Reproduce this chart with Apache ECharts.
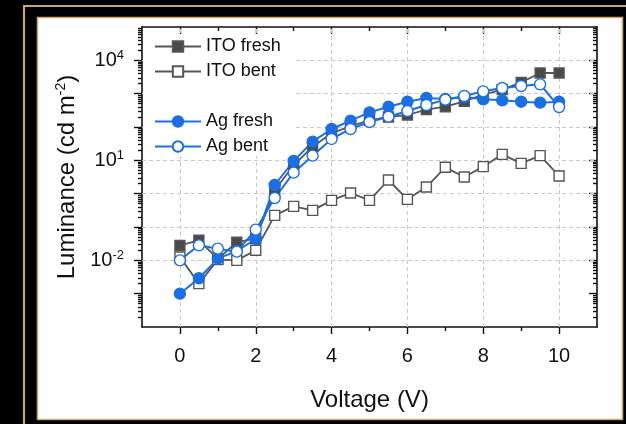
<!DOCTYPE html>
<html><head><meta charset="utf-8">
<script src="https://cdn.jsdelivr.net/npm/echarts@6/dist/echarts.min.js"></script>
<style>html,body{margin:0;padding:0;background:#000;}#c{width:626px;height:424px;}</style>
</head><body><div id="c"></div>
<script>
// ---- data ----
const voltage = [0,0.5,1,1.5,2,2.5,3,3.5,4,4.5,5,5.5,6,6.5,7,7.5,8,8.5,9,9.5,10];
const itoFresh = [0.028,0.040,0.011,0.035,0.045,1.26,7.1,25.7,64.6,107,158,200,229,331,407,589,933,1318,2188,4169,4169];
const itoBent  = [0.0126,0.0020,0.0105,0.010,0.020,0.224,0.417,0.316,0.631,1.05,0.631,2.57,0.676,1.58,6.17,3.16,6.46,15.1,8.13,13.8,3.39];
const agFresh  = [0.001,0.0029,0.0112,0.019,0.0437,1.82,9.55,36.3,87.1,155,275,407,575,741,692,794,676,631,575,537,575];
const agBent   = [0.010,0.0282,0.0224,0.0182,0.0832,0.741,4.27,13.8,43.7,87.1,141,204,302,457,661,851,1175,1479,1698,1905,398];
const seriesNames = ['ITO fresh','ITO bent','Ag fresh','Ag bent'];
// ---- ticks ----
const xMajorTicks = [0,2,4,6,8,10];
const xMinorTicks = [1,3,5,7,9];
const yMajorTicks = [1e-3,1e-2,1e-1,1,1e1,1e2,1e3,1e4];
const yLabelTicks = [1e-2,1e1,1e4];
const yGridLines  = [1e-2,1e-1,1,1e1,1e2,1e3,1e4];
const xGridLines  = [0,2,4,6,8,10];
const yMinorTicks = [];
for (let d = -4; d <= 4; d++) for (let k = 2; k <= 9; k++) yMinorTicks.push(+(k * Math.pow(10, d)).toPrecision(3));

const FONT = 'Liberation Sans, Arial, sans-serif';
const GRAY = '#565656', GRAY_FILL = '#4a4a4a', BLUE = '#1b6fe3', GOLD = '#c9a76e';
const X_MIN = -1, X_MAX = 11, Y_MIN = 1e-4, Y_MAX = 1e5;

const pairs = arr => voltage.map((v, i) => [v, arr[i]]);
const gridBox = {left: 142, right: 29, top: 27, bottom: 97};
const axLine = {show: true, onZero: false, lineStyle: {color: '#111', width: 1.6}};
const noLine = {show: false, onZero: false};
const tickStyle = {color: '#111', width: 1.4};

function xAx(gridIndex, position, ticks, len, inside, withLabel, lineShow) {
  const a = {type: 'value', gridIndex, position, min: X_MIN, max: X_MAX,
    axisLine: lineShow ? axLine : noLine,
    axisTick: {show: true, customValues: ticks, length: len, inside, lineStyle: tickStyle},
    axisLabel: withLabel ? {show: true, customValues: ticks, fontSize: 20, color: '#111', fontFamily: FONT, margin: 19} : {show: false},
    splitLine: {show: false}};
  if (withLabel) Object.assign(a, {name: 'Voltage (V)', nameLocation: 'middle', nameGap: 61,
    nameTextStyle: {fontSize: 24, color: '#111', fontFamily: FONT}});
  return a;
}
function yAx(gridIndex, position, ticks, len, inside, withLabel, lineShow) {
  const a = {type: 'log', gridIndex, position, min: Y_MIN, max: Y_MAX,
    axisLine: lineShow ? axLine : noLine,
    axisTick: {show: true, customValues: ticks, length: len, inside, lineStyle: tickStyle},
    axisLabel: withLabel ? {show: true, customValues: yLabelTicks, margin: 18,
      formatter: v => '{b|10}{s|' + Math.round(Math.log10(v)) + '}',
      rich: {b: {fontSize: 20, color: '#111', fontFamily: FONT, lineHeight: 22},
             s: {fontSize: 13, color: '#111', fontFamily: FONT, verticalAlign: 'top', lineHeight: 12}}} : {show: false},
    splitLine: {show: false}, minorTick: {show: false}};
  if (withLabel) Object.assign(a, {name: '{a|Luminance (cd m}{s|-2}{a|)}', nameLocation: 'middle', nameGap: 60,
    nameTextStyle: {rich: {a: {fontSize: 24, color: '#111', fontFamily: FONT, lineHeight: 27},
                           s: {fontSize: 14, color: '#111', fontFamily: FONT, verticalAlign: 'top', lineHeight: 14}}}});
  return a;
}

const chart = echarts.init(document.getElementById('c'), null, {renderer: 'canvas'});
const lineSeries = (name, data, color, fill, symbol, size, lw) => ({
  name, type: 'line', data: pairs(data), xAxisIndex: 0, yAxisIndex: 0, z: 3,
  symbol, symbolSize: size, showAllSymbol: true,
  lineStyle: {color, width: lw},
  itemStyle: {color: fill, borderColor: color, borderWidth: 1.4},
  emphasis: {disabled: true}
});
const s0 = lineSeries(seriesNames[0], itoFresh, GRAY, GRAY_FILL, 'rect', 10, 1.8);
s0.markLine = {silent: true, symbol: 'none', z: 1, animation: false, label: {show: false},
  lineStyle: {type: [4, 3], color: '#c9c9c9', width: 1},
  emphasis: {disabled: true},
  data: yGridLines.map(v => ({yAxis: v})).concat(xGridLines.map(v => ({xAxis: v})))};

chart.setOption({
  animation: false,
  backgroundColor: '#000',
  graphic: [
    {type: 'rect', z: 0, shape: {x: 24, y: 6, width: 700, height: 500}, style: {fill: 'none', stroke: GOLD, lineWidth: 2.2}, silent: true},
    {type: 'rect', z: 0, shape: {x: 37.5, y: 17.5, width: 585, height: 402}, style: {fill: '#fff', stroke: GOLD, lineWidth: 1.6}, silent: true},
    {type: 'rect', z: 2, shape: {x: 143, y: 35, width: 150, height: 121}, style: {fill: '#fff'}, silent: true}
  ],
  grid: [Object.assign({}, gridBox), Object.assign({}, gridBox)],
  xAxis: [
    xAx(0, 'bottom', xMajorTicks, 7, false, true, true),
    xAx(0, 'top', xMajorTicks, 7, true, false, true),
    xAx(1, 'bottom', xMinorTicks, 4, false, false, false),
    xAx(1, 'top', xMinorTicks, 4, true, false, false)
  ],
  yAxis: [
    yAx(0, 'left', yMajorTicks, 8, false, true, true),
    yAx(0, 'right', yMajorTicks, 8, true, false, true),
    yAx(1, 'left', yMinorTicks, 4, false, false, false),
    yAx(1, 'right', yMinorTicks, 4, true, false, false)
  ],
  legend: [
    {data: seriesNames.slice(0, 2), left: 154, top: 37, orient: 'vertical', padding: 0,
     itemWidth: 46, itemHeight: 13, itemGap: 6, selectedMode: false,
     textStyle: {fontSize: 18, color: '#111', fontFamily: FONT, lineHeight: 19}},
    {data: seriesNames.slice(2, 4), left: 154, top: 112, orient: 'vertical', padding: 0,
     itemWidth: 46, itemHeight: 13, itemGap: 6, selectedMode: false,
     textStyle: {fontSize: 18, color: '#111', fontFamily: FONT, lineHeight: 19}}
  ],
  series: [
    s0,
    lineSeries(seriesNames[1], itoBent, GRAY, '#fff', 'rect', 10, 1.8),
    lineSeries(seriesNames[2], agFresh, BLUE, BLUE, 'circle', 11, 2),
    lineSeries(seriesNames[3], agBent, BLUE, '#fff', 'circle', 11, 2)
  ]
});
</script></body></html>
